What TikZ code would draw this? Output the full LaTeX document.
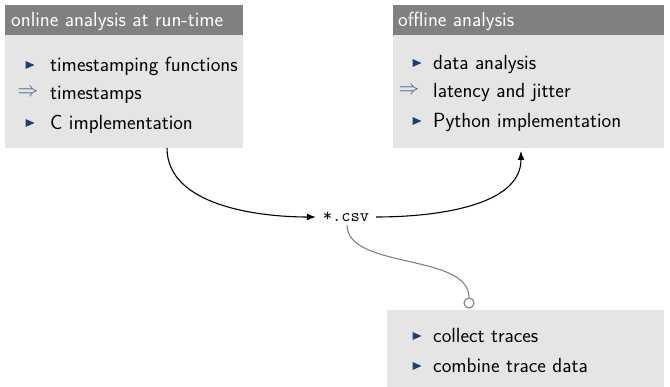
\documentclass[tikz,border=0pt]{standalone}
\usepackage{fontspec}
\usetikzlibrary{arrows.meta}
\definecolor{hdgray}{HTML}{808080}
\definecolor{bdgray}{HTML}{E5E5E5}
\definecolor{bulblue}{HTML}{1F3F70}
\definecolor{arrblue}{HTML}{3E5F8E}
\newcommand{\tri}{\tikz[baseline=-0.5ex]\fill[bulblue] (0,-4pt)--(9pt,0)--(0,4pt)--cycle;}
\tikzset{
  hdr/.style={fill=hdgray, anchor=north west, minimum height=30pt, inner sep=0pt},
  bdy/.style={fill=bdgray, anchor=north west, inner sep=0pt},
  itm/.style={anchor=base west, font=\fontsize{20.5}{24}\selectfont\sffamily, inner sep=0pt},
  conn/.style={line width=1.1pt, -{Latex[length=9pt,width=7pt]}},
}
\begin{document}
\begin{tikzpicture}[x=1pt,y=1pt]
\useasboundingbox (0,0) rectangle (670,387);
% left box
\node[bdy, minimum width=238pt, minimum height=113pt] (lbody) at (5,352) {};
\node[hdr, minimum width=238pt] (lhead) at (5,382) {};
\node[itm, text=white] (lht) at (11,360) {online analysis at run-time};
\node[anchor=center] (lb1) at (30,322) {\tri};
\node[itm] (lt1) at (50,315) {timestamping functions};
\node[anchor=center, text=arrblue, font=\fontsize{20}{24}\selectfont] (la2) at (28,294) {$\Rightarrow$};
\node[itm] (lt2) at (50,287) {timestamps};
\node[anchor=center] (lb3) at (30,264) {\tri};
\node[itm] (lt3) at (50,257) {C implementation};
% right box
\node[bdy, minimum width=271pt, minimum height=113pt] (rbody) at (393,352) {};
\node[hdr, minimum width=271pt] (rhead) at (393,382) {};
\node[itm, text=white] (rht) at (398,360) {offline analysis};
\node[anchor=center] (rb1) at (417,324) {\tri};
\node[itm] (rt1) at (433,317) {data analysis};
\node[anchor=center, text=arrblue, font=\fontsize{20}{24}\selectfont] (ra2) at (409,296) {$\Rightarrow$};
\node[itm] (rt2) at (433,289) {latency and jitter};
\node[anchor=center] (rb3) at (417,266) {\tri};
\node[itm] (rt3) at (433,259) {Python implementation};
% bottom box
\node[bdy, minimum width=277pt, minimum height=77pt] (bbody) at (387,77) {};
\node[anchor=center] (bb1) at (417,51) {\tri};
\node[itm] (bt1) at (433,44) {collect traces};
\node[anchor=center] (bb2) at (417,21) {\tri};
\node[itm] (bt2) at (433,14) {combine trace data};
% csv
\node[font=\ttfamily\addfontfeature{FakeBold=1.2}\fontsize{18}{20}\selectfont, inner sep=0pt, outer xsep=7pt] (csv) at (346,170) {*.csv};
\coordinate (lout) at (167,239);
\coordinate (rin) at (521,236);
\coordinate (csvb) at (347,162);
\node[circle, draw=hdgray, line width=1.1pt, fill=white, minimum size=10pt, inner sep=0pt] (circ) at (469,84) {};
\draw[conn] (lout) to[out=-90, in=180, looseness=0.9] (csv.west);
\draw[conn] (csv.east) to[out=0, in=-90, looseness=0.9] (rin);
\draw[hdgray, line width=1.1pt] (csvb) to[out=-90, in=90, looseness=0.8] (circ.north);
\end{tikzpicture}
\end{document}
